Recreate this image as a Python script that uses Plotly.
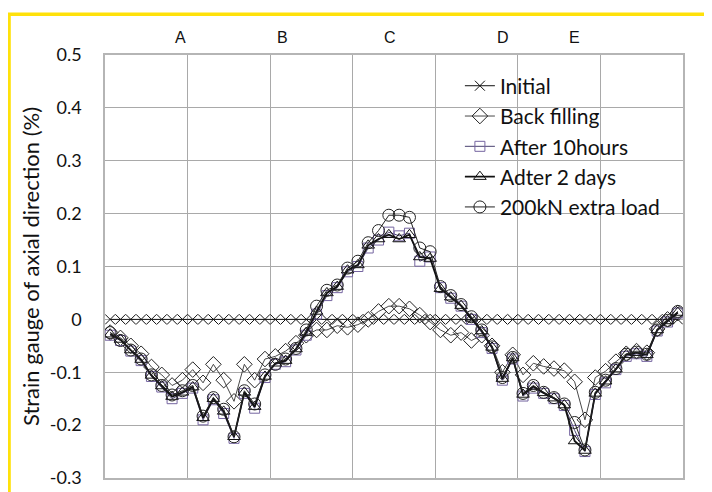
import plotly.graph_objects as go

gauges = list(range(1, 57))

initial = [0.0, 0.0, 0.0, 0.0, 0.0, 0.0, 0.0, 0.0, 0.0, 0.0, 0.0, 0.0, 0.0, 0.0,
           0.0, 0.0, 0.0, 0.0, 0.0, 0.0, 0.0, 0.0, 0.0, 0.0, 0.0, 0.0, 0.0, 0.0,
           0.0, 0.0, 0.0, 0.0, 0.0, 0.0, 0.0, 0.0, 0.0, 0.0, 0.0, 0.0, 0.0, 0.0,
           0.0, 0.0, 0.0, 0.0, 0.0, 0.0, 0.0, 0.0, 0.0, 0.0, 0.0, 0.0, 0.0, 0.0]

back_filling = [-0.025, -0.035, -0.05, -0.065, -0.09, -0.105, -0.125, -0.115, -0.095, -0.12,
                -0.085, -0.115, -0.155, -0.085, -0.115, -0.075, -0.07, -0.06, -0.045, -0.03,
                -0.02, -0.02, -0.012, -0.015, -0.01, 0.0, 0.015, 0.025, 0.025, 0.02,
                0.008, -0.005, -0.02, -0.03, -0.025, -0.04, -0.03, -0.05, -0.1, -0.067,
                -0.105, -0.083, -0.089, -0.093, -0.097, -0.118, -0.19, -0.11, -0.098, -0.08,
                -0.065, -0.06, -0.063, -0.018, 0.0, 0.012]

after_10h = [-0.03, -0.04, -0.06, -0.078, -0.108, -0.128, -0.15, -0.14, -0.13, -0.19,
             -0.152, -0.178, -0.225, -0.14, -0.168, -0.11, -0.085, -0.08, -0.058, -0.03,
             0.01, 0.045, 0.06, 0.09, 0.1, 0.135, 0.15, 0.165, 0.158, 0.163,
             0.11, 0.118, 0.06, 0.04, 0.025, 0.0, -0.025, -0.055, -0.115, -0.075,
             -0.145, -0.13, -0.14, -0.15, -0.163, -0.21, -0.25, -0.142, -0.12, -0.095,
             -0.07, -0.065, -0.07, -0.022, -0.005, 0.012]

after_2d = [-0.028, -0.038, -0.058, -0.076, -0.106, -0.126, -0.146, -0.138, -0.128, -0.186,
            -0.15, -0.174, -0.222, -0.138, -0.165, -0.108, -0.083, -0.078, -0.056, -0.025,
            0.015, 0.05, 0.062, 0.093, 0.103, 0.14, 0.152, 0.16, 0.152, 0.16,
            0.118, 0.115, 0.058, 0.042, 0.026, 0.002, -0.022, -0.053, -0.112, -0.073,
            -0.142, -0.127, -0.139, -0.149, -0.162, -0.23, -0.248, -0.14, -0.117, -0.094,
            -0.067, -0.063, -0.067, -0.02, -0.003, 0.013]

extra_200kn = [-0.025, -0.04, -0.058, -0.075, -0.105, -0.125, -0.143, -0.135, -0.125, -0.183,
               -0.148, -0.17, -0.222, -0.135, -0.16, -0.105, -0.085, -0.075, -0.055, -0.02,
               0.025, 0.055, 0.065, 0.097, 0.11, 0.145, 0.168, 0.197, 0.197, 0.193,
               0.135, 0.128, 0.062, 0.045, 0.028, 0.005, -0.02, -0.052, -0.11, -0.072,
               -0.14, -0.125, -0.138, -0.148, -0.16, -0.195, -0.247, -0.138, -0.115, -0.093,
               -0.066, -0.062, -0.066, -0.02, -0.002, 0.015]

series_names = ["Initial", "Back filling", "After 10hours", "Adter 2 days", "200kN extra load"]

y_tick_vals = [0.5, 0.4, 0.3, 0.2, 0.1, 0.0, -0.1, -0.2, -0.3]
y_tick_text = ["0.5", "0.4", "0.3", "0.2", "0.1", "0", "-0.1", "-0.2", "-0.3"]

section_labels = ["A", "B", "C", "D", "E"]
section_pos = [7.77, 17.65, 28.1, 39.05, 46.0]

FONT = "Lato, 'Open Sans', sans-serif"

fig = go.Figure()

styles = [
    dict(symbol="x-thin-open", size=10, mcolor="#111111", lcolor="#111111", lw=1.0, mlw=1.0),
    dict(symbol="diamond-open", size=12, mcolor="#222222", lcolor="#333333", lw=0.9, mlw=1.0),
    dict(symbol="square-open", size=10, mcolor="#7565a0", lcolor="#4a4170", lw=1.0, mlw=1.0),
    dict(symbol="triangle-up-open", size=11, mcolor="#111111", lcolor="#111111", lw=1.8, mlw=1.0),
    dict(symbol="circle-open", size=12, mcolor="#222222", lcolor="#222222", lw=1.0, mlw=1.0),
]
data_sets = [initial, back_filling, after_10h, after_2d, extra_200kn]

for i, (name, ys, st) in enumerate(zip(series_names, data_sets, styles)):
    fig.add_trace(go.Scatter(
        x=gauges, y=ys, name=name, mode="lines+markers",
        legendgroup=f"g{i}",
        line=dict(color=st["lcolor"], width=st["lw"]),
        marker=dict(symbol=st["symbol"], size=st["size"], color=st["mcolor"],
                    line=dict(color=st["mcolor"], width=st["mlw"])),
    ))

for lab, pos in zip(section_labels, section_pos):
    fig.add_annotation(x=pos, y=1.042, xref="x", yref="paper", text=lab,
                       showarrow=False, font=dict(family="'Liberation Sans', Arial", size=16, color="#111"),
                       xanchor="center", yanchor="middle")

# yellow frame
fig.add_shape(type="rect", xref="paper", yref="paper",
              x0=-0.166, x1=1.0398, y0=-0.08, y1=1.0965,
              line=dict(color="#FFE10A", width=3.5), fillcolor="rgba(0,0,0,0)", layer="below")

fig.update_layout(
    width=712, height=492,
    margin=dict(l=97, r=37, t=47, b=22),
    paper_bgcolor="white", plot_bgcolor="white",
    font=dict(family=FONT, color="#111"),
    showlegend=True,
    legend=dict(x=0.614, y=0.975, xanchor="left", yanchor="top",
                bgcolor="rgba(0,0,0,0)", font=dict(size=21, family=FONT, color="#111"),
                tracegroupgap=0, itemwidth=30),
    xaxis=dict(range=[0.5, 56.5], tickvals=[8.5, 16.5, 24.5, 32.5, 40.5, 48.5],
               showticklabels=False, ticks="", showgrid=True, gridcolor="#a9a9a9", gridwidth=1,
               zeroline=False, showline=True, mirror=True, linecolor="#b5b5b5", linewidth=1.5),
    yaxis=dict(range=[-0.3, 0.5], tickvals=y_tick_vals, ticktext=y_tick_text,
               showgrid=True, gridcolor="#a9a9a9", gridwidth=1, zeroline=False,
               showline=True, mirror=True, linecolor="#b5b5b5", linewidth=1.5,
               ticks="", ticklabelstandoff=18, tickfont=dict(size=18, family=FONT),
               title=dict(text="Strain gauge of axial direction (%)", font=dict(size=22, family=FONT),
                          standoff=4)),
)

fig.write_html("out.html")
